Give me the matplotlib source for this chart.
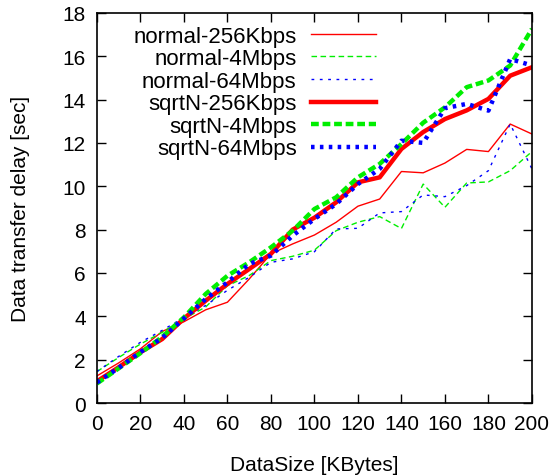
import numpy as np
import matplotlib
matplotlib.use("Agg")
import matplotlib.pyplot as plt

plt.rcParams['font.family'] = ['Liberation Sans', 'DejaVu Sans']

# ----------------- DATA -----------------

data_size = [0, 10, 20, 30, 40, 50, 60, 70, 80, 90, 100,
             110, 120, 130, 140, 150, 160, 170, 180, 190, 200]

normal_256k = [1.25, 1.85, 2.5, 3.3, 3.75, 4.3, 4.65, 5.72, 6.88, 7.34, 7.75,
               8.34, 9.08, 9.41, 10.68, 10.62, 11.07, 11.7, 11.6, 12.87, 12.41]
normal_4m = [1.45, 2.1, 2.72, 3.26, 3.88, 4.43, 5.41, 5.88, 6.57, 6.77, 7.05,
             7.95, 8.34, 8.6, 8.05, 10.1, 9.03, 10.15, 10.2, 10.72, 11.6]
normal_64m = [1.45, 2.15, 2.8, 3.35, 3.95, 4.5, 5.2, 5.8, 6.49, 6.65, 6.98,
              8.03, 8.06, 8.77, 8.83, 9.6, 9.52, 10.03, 10.72, 12.87, 10.8]
sqrtn_256k = [1.0, 1.65, 2.34, 2.95, 3.9, 4.72, 5.49, 6.18, 6.88, 8.0, 8.55,
              9.26, 10.18, 10.41, 11.72, 12.5, 13.1, 13.5, 14.03, 15.1, 15.49]
sqrtn_4m = [0.9, 1.6, 2.3, 3.05, 3.95, 5.03, 5.87, 6.49, 7.18, 7.95, 8.95,
            9.49, 10.41, 11.03, 11.95, 12.93, 13.64, 14.57, 14.88, 15.57, 17.26]
sqrtn_64m = [0.95, 1.62, 2.35, 3.0, 3.9, 4.8, 5.57, 6.41, 6.8, 7.72, 8.49,
             9.18, 10.1, 10.8, 12.1, 12.0, 13.6, 13.8, 13.49, 15.87, 15.57]

x_ticks = list(range(0, 201, 20))
y_ticks = list(range(0, 19, 2))

# ----------------- PLOT -----------------

RED = '#ff0000'
GREEN = '#00ee00'
BLUE = '#0000ff'

fig = plt.figure(figsize=(5.57, 4.77), dpi=100)
ax = fig.add_axes([0.174, 0.153, 0.781, 0.818])

ax.plot(data_size, normal_256k, color=RED, lw=1.0, label='normal-256Kbps')
ax.plot(data_size, normal_4m, color=GREEN, lw=1.0, dashes=(4, 2.5), label='normal-4Mbps')
ax.plot(data_size, normal_64m, color=BLUE, lw=1.0, dashes=(2, 4), label='normal-64Mbps')
ax.plot(data_size, sqrtn_256k, color=RED, lw=3.2, label='sqrtN-256Kbps')
ax.plot(data_size, sqrtn_4m, color=GREEN, lw=3.2, dashes=(1.75, 0.85), label='sqrtN-4Mbps')
ax.plot(data_size, sqrtn_64m, color=BLUE, lw=3.2, dashes=(0.8, 1.2), label='sqrtN-64Mbps')

ax.set_xlim(0, 200)
ax.set_ylim(0, 18)
ax.set_xticks(x_ticks)
ax.set_yticks(y_ticks)
ax.tick_params(direction='in', top=True, right=True, length=6.5, width=1,
               labelsize=15, pad=8)
for s in ax.spines.values():
    s.set_linewidth(1.2)

ax.set_xlabel('DataSize [KBytes]', fontsize=15, labelpad=16)
ax.set_ylabel('Data transfer delay [sec]', fontsize=15, labelpad=23)

ax.legend(loc='upper right', bbox_to_anchor=(0.641, 0.967), frameon=False,
          markerfirst=False, fontsize=16, handlelength=2.9,
          handletextpad=0.66, labelspacing=0.07, borderaxespad=0,
          borderpad=0, alignment='right')

fig.savefig('out.png', dpi=100)
